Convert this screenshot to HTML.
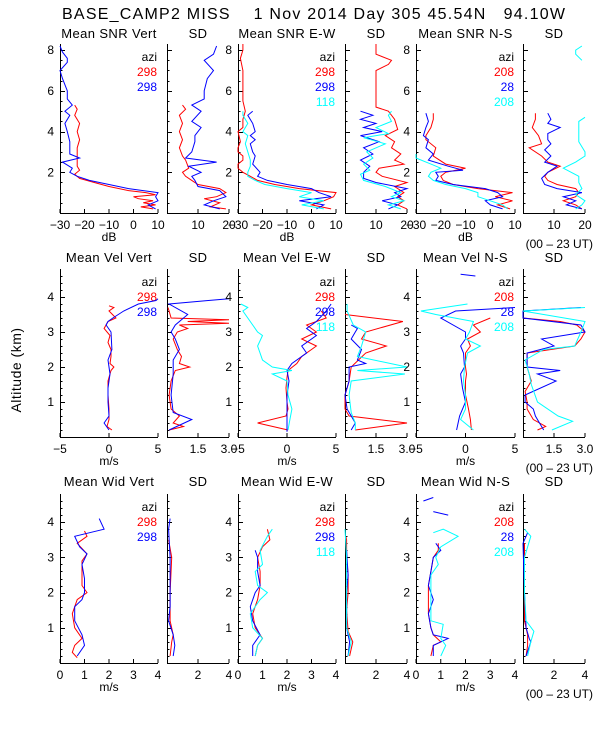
<!DOCTYPE html>
<html><head><meta charset="utf-8">
<style>
html,body{margin:0;padding:0;background:#fff;}
svg{display:block;font-family:"Liberation Sans",sans-serif;}
</style></head>
<body>
<svg id="chart" width="600" height="750" viewBox="0 0 600 750" xmlns="http://www.w3.org/2000/svg">
<rect width="600" height="750" fill="#fff"/>
<text x="62" y="19" font-size="16" fill="#000" textLength="503" lengthAdjust="spacing" xml:space="preserve">BASE_CAMP2 MISS    1 Nov 2014 Day 305 45.54N   94.10W</text>
<text transform="translate(21,370) rotate(-90)" text-anchor="middle" font-size="14" letter-spacing="0.5">Altitude (km)</text>
<g id="plots"></g>
</svg>
<script>
// ---- Row 1: SNR (dB) ----
const snrVertRedAlt=[0.2,0.3,0.4,0.5,0.6,0.7,0.8,0.9,1.0,1.1,1.3,1.5,1.7,1.9,2.1,2.3,2.5,2.8,3.2,3.6,4.0,4.4,4.8,5.1,5.3];
const snrVertRedVal=[8,3,9,4,8,2,0,9,5,-2,-10,-16,-22,-24,-22,-23,-23,-23,-23,-22,-23,-22,-24,-23,-24];
const snrVertBlueAlt=[0.2,0.4,0.6,0.8,1.0,1.2,1.4,1.6,1.8,2.0,2.2,2.5,2.7,2.9,3.5,4.0,4.4,4.8,5.0,5.3,5.6,6.0,6.6,7.0,7.4,7.6,7.9,8.2];
const snrVertBlueVal=[9,6,10,9,10,-2,-10,-18,-23,-26,-25,-29,-22,-26,-26,-27,-28,-26,-28,-25,-27,-27,-29,-30,-27,-27,-29,-30];
const snrSd1RedAlt=[0.2,0.3,0.5,0.7,0.8,1.0,1.2,1.4,1.6,1.8,2.0,2.2,2.6,2.8,3.2,3.6,4.0,4.4,4.8,5.1,5.3];
const snrSd1RedVal=[19,14,17,12,16,19,17,10,8,6,5,7,6,5,4,5,4,5,4,6,5];
const snrSd1BlueAlt=[0.2,0.4,0.6,0.8,1.1,1.3,1.6,1.8,2.0,2.3,2.5,2.7,3.0,3.5,3.8,4.2,4.5,5.0,5.3,5.6,6.0,6.6,7.0,7.5,7.8,8.2];
const snrSd1BlueVal=[17,12,15,19,17,10,9,8,11,7,16,6,8,9,9,11,8,11,8,12,12,13,15,12,15,16];
const snrEwRedAlt=[0.2,0.4,0.6,0.8,1.0,1.2,1.4,1.6,1.8,2.0,2.2,2.4,2.6,2.8,3.0,3.2,3.5,4.0,4.2,4.6,5.0,5.5,6.0,7.0,7.6,8.0,8.3];
const snrEwRedVal=[8,0,5,9,10,-5,-15,-22,-25,-28,-30,-30,-28,-28,-30,-30,-29,-30,-28,-28,-27,-28,-28,-28,-29,-28,-28];
const snrEwBlueAlt=[0.2,0.4,0.6,0.8,1.0,1.2,1.4,1.6,1.8,2.0,2.4,2.8,3.0,3.4,3.6,3.8,4.0,4.4,4.8,5.0];
const snrEwBlueVal=[2,5,-5,8,3,0,-10,-18,-22,-21,-24,-23,-24,-25,-23,-25,-23,-24,-26,-24];
const snrEwCyanAlt=[0.2,0.4,0.6,0.8,1.0,1.2,1.4,1.6,1.8,2.0,2.3,2.6,3.0,3.4,3.8,4.0,4.4,4.8,5.0];
const snrEwCyanVal=[5,-4,5,-5,0,-10,-19,-23,-26,-26,-25,-25,-26,-27,-26,-28,-26,-28,-28];
const snrSd2RedAlt=[0.2,0.4,0.6,0.8,1.0,1.3,1.5,1.8,2.0,2.2,2.4,2.6,2.9,3.2,3.5,3.8,4.1,4.6,5.0,5.2,5.5,6.0,7.0,7.3,7.5,7.8,8.3];
const snrSd2RedVal=[20,17,19,17,19,16,20,12,10,11,19,16,18,15,16,13,17,16,14,10,10,10,10,14,15,10,10];
const snrSd2BlueAlt=[0.2,0.4,0.6,0.8,1.0,1.2,1.5,1.7,2.0,2.3,2.6,2.9,3.2,3.5,3.8,4.0,4.2,4.4,4.6,4.8,5.0];
const snrSd2BlueVal=[14,17,12,18,16,20,10,6,6,8,5,9,6,11,5,12,6,10,5,9,5];
const snrSd2CyanAlt=[0.2,0.4,0.6,0.8,1.0,1.3,1.6,1.9,2.1,2.4,2.7,3.0,3.4,3.7,3.9,4.2,4.5,4.8,5.0];
const snrSd2CyanVal=[18,14,19,15,18,13,6,5,8,6,9,7,13,6,14,10,15,14,15];
const snrNsRedAlt=[0.2,0.4,0.6,0.8,1.0,1.2,1.4,1.6,1.8,2.0,2.2,2.4,2.8,3.2,3.6,3.8,4.2,4.6,4.9];
const snrNsRedVal=[8,3,9,2,9,-5,-15,-19,-20,-18,-10,-18,-23,-22,-26,-26,-24,-23,-23];
const snrNsBlueAlt=[0.2,0.4,0.6,0.8,1.0,1.2,1.4,1.6,1.8,2.0,2.1,2.3,2.6,2.9,3.2,3.6,3.8,4.2,4.5,4.9];
const snrNsBlueVal=[5,0,-2,5,3,-2,-15,-22,-21,-22,-11,-17,-25,-23,-26,-25,-27,-26,-25,-26];
const snrNsCyanAlt=[0.2,0.4,0.6,0.8,1.0,1.2,1.4,1.6,1.8,2.0,2.2,2.4,2.7,2.9];
const snrNsCyanVal=[7,5,0,-5,-5,-10,-18,-23,-25,-24,-20,-24,-30,-31];
const snrSd3RedAlt=[0.2,0.4,0.6,0.8,1.0,1.2,1.4,1.6,1.8,2.0,2.3,2.5,2.8,3.2,3.4,3.8,4.2,4.6,4.9];
const snrSd3RedVal=[19,17,13,17,18,17,11,8,7,8,12,8,6,2,6,5,3,4,4];
const snrSd3BlueAlt=[0.2,0.4,0.6,0.8,1.0,1.2,1.4,1.7,2.0,2.3,2.5,2.8,3.1,3.4,3.6,3.9,4.2,4.4,4.6,4.9];
const snrSd3BlueVal=[19,14,17,13,19,11,7,6,8,11,7,9,7,9,8,8,12,8,9,8];
const snrSd3CyanAlt=[0.2,0.4,0.6,0.9,1.2,1.5,1.8,2.2,2.5,2.8,3.0,3.5,4.0,4.5,4.7,4.8,7.5,7.8,8.0,8.2];
const snrSd3CyanVal=[17,19,20,17,19,18,18,13,17,20,20,18,18,18,20,null,19,17,17,19];
// ---- Row 2: Velocity (m/s) ----
const velVertRedAlt=[0.2,0.3,0.5,0.8,1.2,1.6,1.9,2.0,2.1,2.3,2.5,2.7,2.9,3.1,3.3,3.4,3.6,3.7,3.75];
const velVertRedVal=[0.3,-0.2,0,0,-0.1,-0.1,0.2,0.5,0.1,0.2,0.2,-0.1,0.1,-0.5,-0.1,0.7,0,0.5,0];
const velVertBlueAlt=[0.2,0.4,0.6,1.0,1.4,1.8,2.2,2.5,3.0,3.2,3.3,3.4,3.6,3.8,3.9,3.95];
const velVertBlueVal=[0,-0.5,0,-0.1,-0.1,0.1,-0.1,0.3,0.2,-0.3,-0.1,0.4,1.5,3,4.8,5];
const velSd1RedAlt=[0.2,0.3,0.4,0.6,0.8,1.2,1.6,1.9,2.0,2.1,2.3,2.5,2.8,3.0,3.1,3.2,3.25,3.3,3.35,3.4,3.6,3.7];
const velSd1RedVal=[0.1,0.8,0.3,0.6,0.2,0.1,0.2,0.4,1.1,0.6,0.7,0.5,0.3,0.5,1.0,0.6,3,1,3,0.2,0.1,0.05];
const velSd1BlueAlt=[0.2,0.5,0.7,1.2,1.8,2.2,2.5,2.8,3.0,3.2,3.5,3.8,3.9,3.95];
const velSd1BlueVal=[0.1,1.2,0.3,0.2,0.3,0.3,0.6,0.4,0.2,0.4,1.0,0.1,2,3];
const velEwRedAlt=[0.2,0.4,0.6,0.8,1.0,1.4,1.7,1.9,2.1,2.3,2.6,2.8,3.0,3.2,3.4,3.6];
const velEwRedVal=[0.1,-3,-0.1,0.1,0,-0.1,0,0.1,1,1.5,3,1.5,3,2,4,3.5];
const velEwBlueAlt=[0.15,0.5,0.8,1.2,1.6,1.9,2.1,2.4,2.6,2.9,3.1,3.3,3.6,3.8];
const velEwBlueVal=[0,0,0,0,0.2,0,0.5,2,1.5,3,2,3,4,4.5];
const velEwCyanAlt=[0.2,0.5,0.8,1.2,1.6,1.8,1.9,2.0,2.2,2.6,2.9,3.0,3.2,3.4,3.6,3.7,3.8];
const velEwCyanVal=[0.1,0.3,0.5,0.1,0,-1.5,0.5,-1.5,-2.5,-3,-2.5,-3,-3.5,-4,-4.5,-4,-4.7];
const velSd2RedAlt=[0.2,0.4,0.6,0.8,1.2,1.6,2.0,2.4,2.6,2.8,3.0,3.3,3.5];
const velSd2RedVal=[0.5,3,0.2,0,0,0.2,0.3,1.0,2.0,0.8,1,2.8,0];
const velSd2BlueAlt=[0.2,0.4,0.8,1.2,1.6,2.0,2.1,2.2,2.5,2.8,3.0,3.1,3.2];
const velSd2BlueVal=[0.3,0.5,0.1,0,0.2,0.2,1.0,0.6,0.8,0.3,0.5,0.6,0.3];
const velSd2CyanAlt=[0.2,0.4,0.7,1.2,1.6,1.8,1.9,2.0,2.3,2.6,3.0,3.2,3.6,3.8];
const velSd2CyanVal=[0.5,0.5,0.3,0.2,0.3,2.9,0.6,3,0.6,0.8,1,0.4,0.1,0.1];
const velNsRedAlt=[0.2,0.5,0.8,1.2,1.6,1.8,2.0,2.4,2.6,2.8,3.0,3.2,3.4];
const velNsRedVal=[0.6,0.5,0.3,0,0,0.1,0,0,0.5,0.2,1.5,0.8,2.5];
const velNsBlueAlt=[0.2,0.6,1.0,1.4,1.8,2.0,2.4,2.6,2.8,3.0,3.4,3.6,3.7,3.75,4.6,4.65];
const velNsBlueVal=[-0.9,-0.6,0,-0.3,-0.5,-0.1,-0.2,-0.5,0,0,-2.5,-1,5,null,1,-0.5];
const velNsCyanAlt=[0.2,0.5,0.8,1.2,1.6,2.0,2.4,2.6,2.8,3.0,3.3,3.5,3.6,3.8];
const velNsCyanVal=[0.8,-0.5,0,0,-0.2,-0.1,0.2,1.5,0,0.4,0.8,-3,-4.5,0.2];
const velSd3RedAlt=[0.2,0.3,0.5,0.8,1.0,1.3,1.6,2.0,2.4,2.6,2.8,3.0,3.2,3.3,3.4];
const velSd3RedVal=[0.7,1.1,0.5,0.2,0.2,0.1,0.4,0.2,0.2,2.5,2.8,3,2.6,1.8,0];
const velSd3BlueAlt=[0.2,0.4,0.6,0.8,1.0,1.2,1.6,1.8,1.9,2.0,2.4,2.6,2.8,3.0,3.2,3.4,3.6,3.7,3.75,4.7];
const velSd3BlueVal=[1.0,0.8,0.6,0.5,0.1,0.1,1.6,0.7,1.8,0.2,0.2,1.5,0.9,3,2.8,0,0,2.8,null,0];
const velSd3CyanAlt=[0.2,0.45,0.6,1.0,1.5,1.8,2.2,2.5,2.6,3.0,3.3,3.6,3.7];
const velSd3CyanVal=[1.4,2.4,1.7,0.7,0.4,0.3,0.1,1,2.5,2.8,3,0,3];
// ---- Row 3: Width (m/s) ----
const widVertRedAlt=[0.15,0.3,0.5,0.7,1.0,1.4,1.8,2.0,2.2,2.6,2.9,3.1,3.4,3.6,3.75];
const widVertRedVal=[0.7,0.5,0.6,0.9,0.6,0.5,0.7,1.1,0.9,0.9,0.9,1.1,0.7,1.1,1.0];
const widVertBlueAlt=[0.2,0.5,0.8,1.2,1.6,1.8,2.0,2.4,2.8,3.1,3.3,3.6,3.8,4.1];
const widVertBlueVal=[0.7,1.0,0.9,0.6,0.6,0.9,1.0,1.0,0.9,1.1,0.8,0.6,1.8,1.6];
const widSd1RedAlt=[0.2,0.6,0.8,1.2,1.6,2.0,3.0,3.5];
const widSd1RedVal=[0.2,0.3,0.4,0.2,0.2,0.2,0.3,0.1];
const widSd1BlueAlt=[0.2,0.5,0.8,1.2,1.6,2.0,3.0,3.8,4.1];
const widSd1BlueVal=[0.4,0.5,0.4,0.1,0.2,0.2,0.2,0.1,0.2];
const widEwRedAlt=[0.2,0.5,0.7,1.0,1.4,1.8,2.2,2.6,3.0,3.3,3.5,3.8];
const widEwRedVal=[0.7,0.8,1.0,0.7,0.6,0.8,0.9,0.9,0.8,1.0,1.3,1.2];
const widEwBlueAlt=[0.2,0.5,0.8,1.2,1.6,2.0,2.2,2.6,3.0,3.2];
const widEwBlueVal=[0.6,0.6,0.9,0.6,0.5,0.7,0.9,0.8,0.8,0.7];
const widEwCyanAlt=[0.2,0.5,0.7,1.0,1.4,1.8,2.0,2.2,2.6,2.8,3.2,3.6,3.8];
const widEwCyanVal=[0.7,0.8,1.0,0.6,0.5,0.9,1.2,0.8,0.7,1.0,0.9,1.2,1.4];
const widSd2RedAlt=[0.2,0.6,0.9,1.5,2.0,2.5,3.0,3.5,3.6];
const widSd2RedVal=[0.3,0.5,0.2,0.1,0.2,0.2,0.1,0.1,0.05];
const widSd2BlueAlt=[0.2,0.6,1.0,2.0,2.5,3.2];
const widSd2BlueVal=[0.2,0.3,0.1,0.1,0.2,0.1];
const widSd2CyanAlt=[0.2,0.6,1.0,2.0,3.0,3.8];
const widSd2CyanVal=[0.2,0.4,0.1,0.1,0.1,0];
const widNsRedAlt=[0.2,0.5,0.6,0.8,1.0,1.4,1.8,2.2,2.6,3.0,3.2,3.4];
const widNsRedVal=[0.6,0.7,1.0,0.7,0.6,0.5,0.5,0.5,0.6,0.7,0.9,0.9];
const widNsBlueAlt=[0.2,0.5,0.7,0.8,1.0,1.4,1.8,2.2,2.6,3.0,3.2,3.4,3.5,4.2,4.3,4.4,4.6,4.7];
const widNsBlueVal=[0.7,0.7,1.3,0.7,0.6,0.5,0.7,0.5,0.6,0.7,1.0,0.8,null,1.3,0.7,null,0.3,0.7];
const widNsCyanAlt=[0.2,0.5,0.7,1.1,1.2,2.0,2.5,2.8,3.0,3.3,3.6,3.8,3.7];
const widNsCyanVal=[1.0,1.2,1.0,1.1,0.6,0.6,0.6,0.9,0.8,1.0,1.7,1.1,0.7];
const widSd3RedAlt=[0.2,0.5,0.8,1.2,2.0,3.0,3.4];
const widSd3RedVal=[0.2,0.3,0.3,0.1,0.1,0.1,0.1];
const widSd3BlueAlt=[0.2,0.6,0.7,1.0,2.0,3.4,3.7,3.75,4.7];
const widSd3BlueVal=[0.2,0.5,0.4,0.2,0.1,0,0.3,null,0];
const widSd3CyanAlt=[0.2,0.6,0.9,1.2,2.0,3.0,3.6,3.8];
const widSd3CyanVal=[0.3,0.5,0.7,0.2,0.1,0.1,0.5,0.1];

// tick labels
const snrTicks=[-30,-20,-10,0,10];
const snrSdTicks=[10,20];
const velTicks=[-5,0,5];
const velSdTicks=[1.5,3.0];
const widTicks=[0,1,2,3,4];
const widSdTicks=[2,4];
const row1AltTicks=[2,4,6,8];
const row23AltTicks=[1,2,3,4];

const NS='http://www.w3.org/2000/svg';
const root=document.getElementById('plots');
function el(tag,attrs,parent,text){
  const e=document.createElementNS(NS,tag);
  for(const k in attrs)e.setAttribute(k,attrs[k]);
  if(text!==undefined)e.textContent=text;
  (parent||root).appendChild(e);return e;
}
const COL={red:'#ff0000',blue:'#0000ff',cyan:'#00ffff'};
const cols=[[60,158],[167,229],[238,336],[345,407],[416,515],[523,585]];
const rows=[{top:44,bot:213,amax:8.3,minor:0.5,ticks:row1AltTicks,title:38},
            {top:269,bot:437,amax:4.8,minor:0.2,ticks:row23AltTicks,title:262},
            {top:494,bot:663,amax:4.8,minor:0.2,ticks:row23AltTicks,title:486}];

function panel(ri,ci,xmin,xmax,xticks,fmt,title,series,opts){
  const r=rows[ri],[x0,x1]=cols[ci];
  const g=el('g',{});
  
  
  const xs=v=>x0+(v-xmin)/(xmax-xmin)*(x1-x0);
  const ys=a=>r.bot-a/r.amax*(r.bot-r.top);
  const t=el('text',{x:(x0+x1)/2,y:r.title,'text-anchor':'middle','font-size':13,'letter-spacing':0.4},g,title);
  
  
  el('line',{x1:x0+0.5,y1:r.top,x2:x0+0.5,y2:r.bot+0.5,stroke:'#000'},g);
  el('line',{x1:x0,y1:r.bot+0.5,x2:x1,y2:r.bot+0.5,stroke:'#000'},g);
  for(let a=r.minor;a<r.amax;a+=r.minor){
    const major=r.ticks.some(v=>Math.abs(v-a)<1e-6);
    el('line',{x1:x0,y1:Math.round(ys(a))+0.5,x2:x0+(major?5:2.5),y2:Math.round(ys(a))+0.5,stroke:'#000'},g);
  }
  if(opts.ylabels){
    r.ticks.forEach(v=>{const tl=el('text',{x:x0-6,y:ys(v)+4,'text-anchor':'end','font-size':12},g,String(v));
      
      });
  }
  xticks.forEach(v=>{
    const X=xs(v);
    el('line',{x1:X,y1:r.bot,x2:X,y2:r.bot-4,stroke:'#000'},g);
    const tl=el('text',{x:X,y:r.bot+16,'text-anchor':'middle','font-size':12},g,fmt(v));
    
    
  });
  if(opts.xlabel){const xl=el('text',{x:(x0+x1)/2,y:r.bot+28,'text-anchor':'middle','font-size':12},g,opts.xlabel);
    
    }
  if(opts.ut){const u=el('text',{x:593,y:r.bot+35,'text-anchor':'end','font-size':12},g,'(00 – 23 UT)');
    
    }
  if(opts.legend){
    const lx=x1-1,ly=r.top+17;
    const a=el('text',{x:lx,y:ly,'text-anchor':'end','font-size':12},g,'azi');
    
    
    opts.legend.forEach((L,i)=>{const e=el('text',{x:lx,y:ly+15*(i+1),'text-anchor':'end','font-size':12,fill:COL[L[0]]},g,L[1]);
      
      });
  }
  series.forEach(s=>{
    const [color,alts,vals]=s;
    let d='',pen=false;
    for(let i=0;i<alts.length;i++){
      if(vals[i]===null||vals[i]===undefined){pen=false;continue;}
      const X=Math.max(x0,Math.min(x1,xs(vals[i]))),Y=ys(alts[i]);
      d+=(pen?'L':'M')+X.toFixed(1)+' '+Y.toFixed(1);pen=true;
    }
    const p=el('path',{d:d,fill:'none',stroke:COL[color],'stroke-width':1},g);
    
    
  });
}
const fInt=v=>v<0?'−'+Math.abs(v):String(v);
const f1=v=>v.toFixed(1);
const lg2=[['red','298'],['blue','298']],lgEW=[['red','298'],['blue','298'],['cyan','118']],lgNS=[['red','208'],['blue','28'],['cyan','208']];
// Row 1
panel(0,0,-30,10,snrTicks,fInt,'Mean SNR Vert',[['red',snrVertRedAlt,snrVertRedVal],['blue',snrVertBlueAlt,snrVertBlueVal]],{ylabels:1,xlabel:'dB',legend:lg2});
panel(0,1,0,20,snrSdTicks,fInt,'SD',[['red',snrSd1RedAlt,snrSd1RedVal],['blue',snrSd1BlueAlt,snrSd1BlueVal]],{});
panel(0,2,-30,10,snrTicks,fInt,'Mean SNR E-W',[['red',snrEwRedAlt,snrEwRedVal],['blue',snrEwBlueAlt,snrEwBlueVal],['cyan',snrEwCyanAlt,snrEwCyanVal]],{ylabels:1,xlabel:'dB',legend:lgEW});
panel(0,3,0,20,snrSdTicks,fInt,'SD',[['red',snrSd2RedAlt,snrSd2RedVal],['blue',snrSd2BlueAlt,snrSd2BlueVal],['cyan',snrSd2CyanAlt,snrSd2CyanVal]],{});
panel(0,4,-30,10,snrTicks,fInt,'Mean SNR N-S',[['red',snrNsRedAlt,snrNsRedVal],['blue',snrNsBlueAlt,snrNsBlueVal],['cyan',snrNsCyanAlt,snrNsCyanVal]],{ylabels:1,xlabel:'dB',legend:lgNS});
panel(0,5,0,20,snrSdTicks,fInt,'SD',[['red',snrSd3RedAlt,snrSd3RedVal],['blue',snrSd3BlueAlt,snrSd3BlueVal],['cyan',snrSd3CyanAlt,snrSd3CyanVal]],{ut:1});
// Row 2
panel(1,0,-5,5,velTicks,fInt,'Mean Vel Vert',[['red',velVertRedAlt,velVertRedVal],['blue',velVertBlueAlt,velVertBlueVal]],{ylabels:1,xlabel:'m/s',legend:lg2});
panel(1,1,0,3,velSdTicks,f1,'SD',[['red',velSd1RedAlt,velSd1RedVal],['blue',velSd1BlueAlt,velSd1BlueVal]],{});
panel(1,2,-5,5,velTicks,fInt,'Mean Vel E-W',[['red',velEwRedAlt,velEwRedVal],['blue',velEwBlueAlt,velEwBlueVal],['cyan',velEwCyanAlt,velEwCyanVal]],{ylabels:1,xlabel:'m/s',legend:lgEW});
panel(1,3,0,3,velSdTicks,f1,'SD',[['red',velSd2RedAlt,velSd2RedVal],['blue',velSd2BlueAlt,velSd2BlueVal],['cyan',velSd2CyanAlt,velSd2CyanVal]],{});
panel(1,4,-5,5,velTicks,fInt,'Mean Vel N-S',[['red',velNsRedAlt,velNsRedVal],['blue',velNsBlueAlt,velNsBlueVal],['cyan',velNsCyanAlt,velNsCyanVal]],{ylabels:1,xlabel:'m/s',legend:lgNS});
panel(1,5,0,3,velSdTicks,f1,'SD',[['red',velSd3RedAlt,velSd3RedVal],['blue',velSd3BlueAlt,velSd3BlueVal],['cyan',velSd3CyanAlt,velSd3CyanVal]],{ut:1});
// Row 3
panel(2,0,0,4,widTicks,fInt,'Mean Wid Vert',[['red',widVertRedAlt,widVertRedVal],['blue',widVertBlueAlt,widVertBlueVal]],{ylabels:1,xlabel:'m/s',legend:lg2});
panel(2,1,0,4,widSdTicks,fInt,'SD',[['red',widSd1RedAlt,widSd1RedVal],['blue',widSd1BlueAlt,widSd1BlueVal]],{});
panel(2,2,0,4,widTicks,fInt,'Mean Wid E-W',[['red',widEwRedAlt,widEwRedVal],['blue',widEwBlueAlt,widEwBlueVal],['cyan',widEwCyanAlt,widEwCyanVal]],{ylabels:1,xlabel:'m/s',legend:lgEW});
panel(2,3,0,4,widSdTicks,fInt,'SD',[['red',widSd2RedAlt,widSd2RedVal],['blue',widSd2BlueAlt,widSd2BlueVal],['cyan',widSd2CyanAlt,widSd2CyanVal]],{});
panel(2,4,0,4,widTicks,fInt,'Mean Wid N-S',[['red',widNsRedAlt,widNsRedVal],['blue',widNsBlueAlt,widNsBlueVal],['cyan',widNsCyanAlt,widNsCyanVal]],{ylabels:1,xlabel:'m/s',legend:lgNS});
panel(2,5,0,4,widSdTicks,fInt,'SD',[['red',widSd3RedAlt,widSd3RedVal],['blue',widSd3BlueAlt,widSd3BlueVal],['cyan',widSd3CyanAlt,widSd3CyanVal]],{ut:1});
</script>
</body></html>
